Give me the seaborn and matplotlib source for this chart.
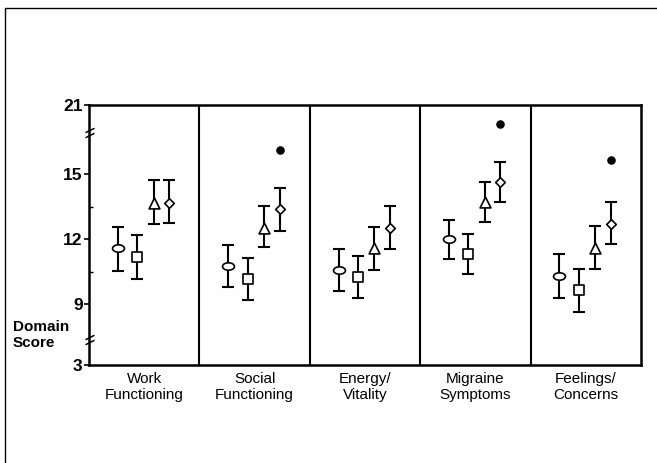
import numpy as np
import pandas as pd
import matplotlib
matplotlib.use("Agg")
import matplotlib.pyplot as plt
import seaborn as sns
from matplotlib.path import Path
from matplotlib.transforms import Affine2D, IdentityTransform
from matplotlib.lines import Line2D

# region Datos
domains = ["Work\nFunctioning", "Social\nFunctioning", "Energy/\nVitality",
           "Migraine\nSymptoms", "Feelings/\nConcerns"]

circle_mean = [11.58, 10.78, 10.58, 12.00, 10.28]
circle_low = [10.55, 9.78, 9.61, 11.09, 9.31]
circle_high = [12.58, 11.74, 11.55, 12.89, 11.31]

square_mean = [11.20, 10.16, 10.24, 11.32, 9.66]
square_low = [10.18, 9.18, 9.27, 10.38, 8.65]
square_high = [12.18, 11.13, 11.23, 12.25, 10.62]

triangle_mean = [13.66, 12.54, 11.58, 13.71, 11.61]
triangle_low = [12.71, 11.62, 10.60, 12.78, 10.62]
triangle_high = [14.71, 13.54, 12.58, 14.63, 12.61]

diamond_mean = [13.69, 13.40, 12.51, 14.63, 12.71]
diamond_low = [12.74, 12.40, 11.54, 13.71, 11.77]
diamond_high = [14.71, 14.35, 13.51, 15.55, 13.71]

# puntos negros (significancia) sobre el diamante
sig_domain = [1, 3, 4]
sig_value = [16.1, 18.2, 15.66]

y_ticks = [3, 9, 12, 15, 21]
y_minor = [10.5, 13.5]
# endregion

# region Tabla larga
groups = {
    "g1": (circle_mean, circle_low, circle_high),
    "g2": (square_mean, square_low, square_high),
    "g3": (triangle_mean, triangle_low, triangle_high),
    "g4": (diamond_mean, diamond_low, diamond_high),
}
rows = []
for g, (m, lo, hi) in groups.items():
    for i in range(len(domains)):
        rows.append({"grupo": g, "dom": i, "mean": m[i], "low": lo[i], "high": hi[i]})
df = pd.DataFrame(rows)
# endregion

# region Estilo
offsets = {"g1": -0.24, "g2": -0.064, "g3": 0.085, "g4": 0.226}
ellipse = Path.unit_circle().transformed(Affine2D().scale(1.0, 0.62))
markers = {"g1": ellipse, "g2": "s", "g3": "^", "g4": "D"}
msize = {"g1": 8.6, "g2": 6.8, "g3": 7.8, "g4": 4.9}
df["x"] = df["dom"] + df["grupo"].map(offsets)
# endregion

sns.set_theme(style="white")
plt.rcParams['font.family'] = ['Liberation Sans', 'DejaVu Sans']
plt.rcParams['text.color'] = 'black'
plt.rcParams['xtick.color'] = 'black'
plt.rcParams['ytick.color'] = 'black'

fig = plt.figure(figsize=(6.57, 4.63), dpi=100)
ax = fig.add_axes([89 / 657, 98 / 463, 552 / 657, 260 / 463])

# eje y partido (tramo central lineal, extremos comprimidos)
brk = [3, 7.35, 16.9, 21]
pos = [0, 25, 232, 260]
def fwd(v):
    return np.interp(v, brk, pos)
def inv(p):
    return np.interp(p, pos, brk)
ax.set_yscale('function', functions=(fwd, inv))

for g, sub in df.groupby("grupo"):
    ax.errorbar(sub["x"], sub["mean"],
                yerr=[sub["mean"] - sub["low"], sub["high"] - sub["mean"]],
                fmt='none', ecolor='black', elinewidth=1.5, capsize=4.3,
                capthick=1.5, zorder=2)
    sns.scatterplot(data=sub, x="x", y="mean", marker=markers[g], s=msize[g] ** 2,
                    color='white', edgecolor='black', linewidth=1.2, zorder=3,
                    ax=ax, legend=False)

sig = pd.DataFrame({"x": np.array(sig_domain) + offsets["g4"], "y": sig_value})
sns.scatterplot(data=sig, x="x", y="y", s=38, color='black', edgecolor='black',
                linewidth=0, zorder=3, ax=ax, legend=False)

for xs in np.arange(0.5, len(domains) - 0.5, 1):
    ax.axvline(xs, color='black', lw=1.5, zorder=1)

ax.set_xlim(-0.5, len(domains) - 0.5)
ax.set_ylim(3, 21)
ax.set_xticks(range(len(domains)))
ax.set_xticklabels(domains, fontsize=11, linespacing=1.2)
ax.set_yticks(y_ticks)
ax.set_yticklabels([str(t) for t in y_ticks], fontsize=12.5, fontweight='bold')
ax.set_yticks(y_minor, minor=True)
ax.tick_params(axis='x', length=0, pad=5, colors='black')
ax.tick_params(axis='y', which='major', left=True, length=3.5, width=1.2, pad=1,
               direction='out', colors='black')
ax.tick_params(axis='y', which='minor', left=True, length=3, width=1.0, direction='in')
ax.set_xlabel("")
ax.set_ylabel("")
for s in ax.spines.values():
    s.set_color('black')
    s.set_linewidth(1.8)

# marcas de corte del eje
fig.canvas.draw()
for yb in (7.35, 16.9):
    x0, y0 = ax.transData.transform((-0.5, yb))
    for d in (-2.5, 2.5):
        fig.add_artist(Line2D([x0 - 3, x0 + 5], [y0 + d - 2, y0 + d + 2],
                              transform=IdentityTransform(), color='black', lw=1.1))

fig.text(13 / 657, 1 - 335 / 463, "Domain\nScore", ha='left', va='center',
         fontsize=11, fontweight='bold', linespacing=1.2, color='black')

# marco exterior del escaneo
fig.add_artist(Line2D([5 / 657, 5 / 657, 1], [0, 1 - 8 / 463, 1 - 8 / 463],
                      transform=fig.transFigure, color='black', lw=1.0))

fig.savefig("out.png", dpi=100)
